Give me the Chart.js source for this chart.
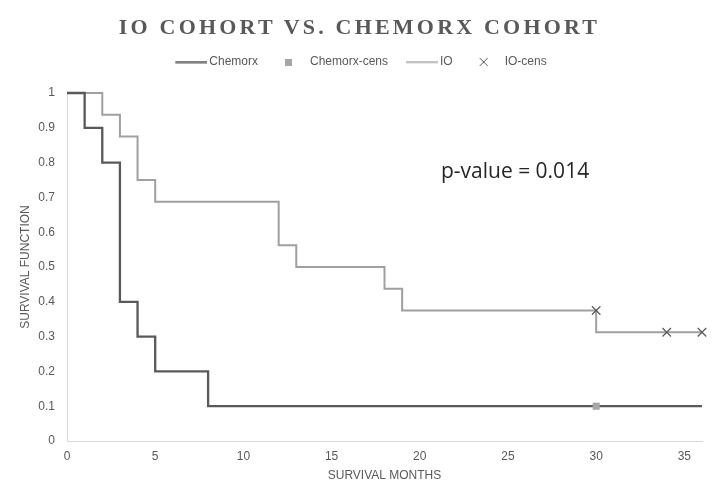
<!DOCTYPE html>
<html><head><meta charset="utf-8">
<script src="https://cdn.jsdelivr.net/npm/chart.js@4.4.1/dist/chart.umd.min.js"></script>
<style>
html,body{margin:0;padding:0;background:#fff;}
#wrap{position:relative;width:719px;height:489px;}
#title{position:absolute;left:0;width:719px;top:14px;text-align:center;font-family:"Liberation Serif","DejaVu Serif",serif;font-weight:bold;font-size:22px;line-height:26px;letter-spacing:3.2px;color:#595959;}
canvas{position:absolute;left:0;top:0;}
</style></head>
<body><div id="wrap"><canvas id="c" width="719" height="489"></canvas><div id="title">IO COHORT VS. CHEMORX COHORT</div></div>
<script>
const chemMonths = [0,1,2,3,4,5,8,36];
const chemSurv   = [1,0.9,0.8,0.4,0.3,0.2,0.1,0.1];
const ioMonths   = [0,2,3,4,5,12,13,18,19,30,36];
const ioSurv     = [1,0.9375,0.875,0.75,0.6875,0.5625,0.5,0.4375,0.375,0.3125,0.3125];
const chemCensMonths = [30];
const chemCensSurv   = [0.1];
const ioCensMonths   = [30,34,36];
const ioCensSurv     = [0.375,0.3125,0.3125];
const xTicks = [0,5,10,15,20,25,30,35];
const seriesNames = ['Chemorx','Chemorx-cens','IO','IO-cens'];
const pText = 'p-value = 0.014';

const pts = (xs, ys) => xs.map((x,i)=>({x:x,y:ys[i]}));
const DARK = '#595959', LIGHT = '#a0a0a0';
const FONT = '"Liberation Sans",sans-serif';

function icon(w,h,draw){const c=document.createElement('canvas');c.width=w;c.height=h;draw(c.getContext('2d'));return c;}
const iconChem = icon(38,3,g=>{g.strokeStyle=DARK;g.lineWidth=2;g.beginPath();g.moveTo(6,1.5);g.lineTo(38,1.5);g.stroke();});
const iconIO = icon(38,3,g=>{g.strokeStyle=LIGHT;g.lineWidth=1.5;g.beginPath();g.moveTo(6,1.5);g.lineTo(38,1.5);g.stroke();});
const iconSq = icon(7,7,g=>{g.fillStyle='#a6a6a6';g.fillRect(0,0,7,7);});
const iconX = icon(10,10,g=>{g.strokeStyle='#595959';g.lineWidth=1;g.beginPath();g.moveTo(1,1);g.lineTo(9,9);g.moveTo(9,1);g.lineTo(1,9);g.stroke();});
const icons=[iconChem,iconSq,iconIO,iconX];

const pPlugin = {id:'ptext',afterDatasetsDraw(chart){
  const {ctx,scales:{x,y}}=chart;ctx.save();
  ctx.font='21px "Open Sans","Liberation Sans",sans-serif';ctx.fillStyle='#262626';
  ctx.textBaseline='alphabetic';ctx.textAlign='left';
  ctx.fillText(pText,x.getPixelForValue(21.2),y.getPixelForValue(0.757));ctx.restore();}};

const legendSpace = {id:'legendSpace',beforeLayout(chart){
  const lg=chart.legend; if(lg && !lg._patched){const f=lg.fit;lg.fit=function(){f.call(this);this.height+=15;};lg._patched=true;}}};

new Chart(document.getElementById('c'),{
  type:'scatter',
  data:{datasets:[
    {label:seriesNames[0],type:'line',data:pts(chemMonths,chemSurv),stepped:'before',borderColor:DARK,borderWidth:2.3,pointRadius:0,fill:false,clip:false,order:3},
    {label:seriesNames[1],data:pts(chemCensMonths,chemCensSurv),pointStyle:'rect',pointRadius:5,backgroundColor:'#a6a6a6',borderColor:'#a6a6a6',borderWidth:0,clip:false,order:1},
    {label:seriesNames[2],type:'line',data:pts(ioMonths,ioSurv),stepped:'before',borderColor:LIGHT,borderWidth:2,pointRadius:0,fill:false,clip:false,order:4},
    {label:seriesNames[3],data:pts(ioCensMonths,ioCensSurv),pointStyle:'crossRot',pointRadius:6,borderColor:'#595959',borderWidth:1.2,backgroundColor:'#595959',clip:false,order:0}
  ]},
  options:{
    responsive:false,animation:false,
    layout:{padding:{top:40,right:17,left:18,bottom:0}},
    plugins:{
      tooltip:{enabled:false},
      title:{display:false},
      legend:{display:true,position:'top',align:'center',
        labels:{usePointStyle:true,pointStyleWidth:30,boxHeight:12,padding:16,color:'#595959',
          font:{family:FONT,size:12},
          generateLabels:(chart)=>chart.data.datasets.map((d,i)=>({text:d.label,pointStyle:icons[i],fillStyle:'#fff',strokeStyle:'#fff',lineWidth:0,hidden:false,datasetIndex:i,fontColor:'#595959'}))}}
    },
    scales:{
      x:{type:'linear',min:0,max:36,
        afterBuildTicks:(s)=>{s.ticks=xTicks.map(v=>({value:v}));},
        grid:{display:false,drawTicks:false},border:{display:true,color:'#d9d9d9',width:1},
        ticks:{color:'#595959',font:{family:FONT,size:12},padding:8},
        title:{display:true,text:'SURVIVAL MONTHS',color:'#595959',font:{family:FONT,size:12},padding:{top:4,bottom:6}},
        afterFit:(s)=>{s.height=48;}},
      y:{type:'linear',min:0,max:1,
        ticks:{stepSize:0.1,color:'#595959',font:{family:FONT,size:12},padding:12,
          callback:(v)=>Math.round(v*10)/10+''},
        grid:{display:false,drawTicks:false},border:{display:true,color:'#d9d9d9',width:1},
        title:{display:true,text:'SURVIVAL FUNCTION',color:'#595959',font:{family:FONT,size:12},padding:{top:0,bottom:4}},
        afterFit:(s)=>{s.width=49;}}
    }
  },
  plugins:[pPlugin,legendSpace]
});
</script></body></html>
